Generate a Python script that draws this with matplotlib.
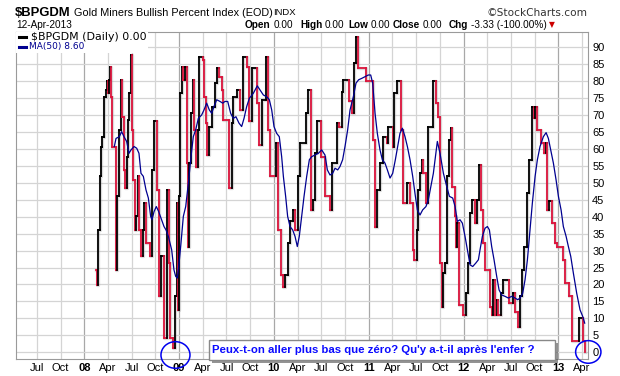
import numpy as np
import matplotlib
matplotlib.use("Agg")
import matplotlib.pyplot as plt
from matplotlib.collections import LineCollection
from matplotlib.patches import Ellipse
import matplotlib.patheffects as pe

plt.rcParams['font.family'] = ['Liberation Sans', 'DejaVu Sans']

# === data (decimal years, percent) ===
SYMBOL = "$BPGDM"
TITLE = "Gold Miners Bullish Percent Index (EOD)"
EXCHANGE = "INDX"
DATE_STR = "12-Apr-2013"
QUOTE = [("Open", "0.00"), ("High", "0.00"), ("Low", "0.00"), ("Close", "0.00"),
         ("Chg", "-3.33 (-100.00%)")]
LAST_CLOSE = 0.00
MA_LAST = 8.60
NOTE = "Peux-t-on aller plus bas que zéro? Qu'y a-t-il après l'enfer ?"

bp_t = [2008.124, 2008.131, 2008.145, 2008.162, 2008.173, 2008.191, 2008.208, 2008.226,
        2008.236, 2008.247, 2008.257, 2008.268, 2008.278, 2008.289, 2008.335, 2008.349,
        2008.363, 2008.384, 2008.398, 2008.416, 2008.433, 2008.447, 2008.461, 2008.475,
        2008.489, 2008.503, 2008.517, 2008.531, 2008.546, 2008.563, 2008.581, 2008.595,
        2008.616, 2008.634, 2008.651, 2008.693, 2008.714, 2008.739, 2008.764, 2008.788,
        2008.806, 2008.845, 2008.869, 2008.890, 2008.908, 2008.932, 2008.957, 2008.975,
        2008.992, 2009.003, 2009.013, 2009.031, 2009.045, 2009.063, 2009.080, 2009.091,
        2009.108, 2009.126, 2009.143, 2009.161, 2009.178, 2009.196, 2009.214, 2009.249,
        2009.263, 2009.280, 2009.294, 2009.312, 2009.344, 2009.379, 2009.396, 2009.424,
        2009.449, 2009.467, 2009.530, 2009.555, 2009.572, 2009.607, 2009.643, 2009.671,
        2009.720, 2009.737, 2009.766, 2009.825, 2009.843, 2009.871, 2009.913, 2009.934,
        2009.959, 2010.022, 2010.040, 2010.071, 2010.100, 2010.117, 2010.152, 2010.170,
        2010.205, 2010.223, 2010.258, 2010.275, 2010.339, 2010.363, 2010.388, 2010.416,
        2010.434, 2010.458, 2010.497, 2010.539, 2010.592, 2010.609, 2010.669, 2010.683,
        2010.715, 2010.732, 2010.796, 2010.820, 2010.845, 2010.866, 2010.887, 2010.972,
        2011.042, 2011.067, 2011.091, 2011.119, 2011.154, 2011.190, 2011.207, 2011.253,
        2011.267, 2011.295, 2011.341, 2011.358, 2011.401, 2011.436, 2011.464, 2011.481,
        2011.506, 2011.524, 2011.541, 2011.559, 2011.576, 2011.601, 2011.629, 2011.682,
        2011.710, 2011.735, 2011.752, 2011.773, 2011.788, 2011.805, 2011.823, 2011.847,
        2011.865, 2011.883, 2011.911, 2011.921, 2011.935, 2011.956, 2011.999, 2012.027,
        2012.051, 2012.069, 2012.087, 2012.122, 2012.139, 2012.164, 2012.181, 2012.210,
        2012.227, 2012.280, 2012.297, 2012.315, 2012.336, 2012.350, 2012.368, 2012.392,
        2012.414, 2012.484, 2012.526, 2012.547, 2012.572, 2012.596, 2012.614, 2012.639,
        2012.667, 2012.695, 2012.719, 2012.744, 2012.755, 2012.779, 2012.818, 2012.850,
        2012.867, 2012.885, 2012.906, 2012.930, 2012.966, 2012.990, 2013.053, 2013.071,
        2013.117, 2013.141, 2013.219, 2013.257, 2013.278]
bp_v = [24.3, 19.9, 36.0, 51.9, 60.7, 63.6, 75.4, 77.4,
        79.9, 76.4, 80.4, 84.3, 75.4, 60.7, 24.3, 46.0,
        65.6, 80.4, 69.5, 53.8, 48.4, 57.7, 68.6, 76.4,
        87.7, 65.6, 50.9, 36.1, 40.1, 51.9, 36.1, 28.3,
        36.1, 44.0, 32.2, 28.3, 53.8, 68.1, 47.9, 16.5,
        28.3, 4.2, 47.9, 26.3, 4.2, 1.2, 16.5, 44.0,
        12.5, 46.0, 76.4, 84.3, 80.4, 84.3, 55.8, 31.2,
        55.8, 70.5, 80.4, 65.6, 54.8, 65.6, 87.2, 86.2,
        75.4, 67.6, 58.2, 66.6, 72.5, 79.4, 83.8, 81.3,
        77.4, 68.6, 48.4, 67.6, 75.4, 77.4, 71.5, 87.2,
        84.3, 68.1, 83.8, 73.5, 61.2, 74.5, 87.2, 65.6,
        51.9, 61.7, 36.1, 22.8, 19.4, 22.8, 32.2, 38.6,
        42.0, 36.1, 51.9, 61.7, 70.5, 77.4, 42.0, 45.0,
        58.7, 68.1, 57.7, 46.0, 42.0, 55.8, 67.6, 66.6,
        76.9, 80.4, 74.0, 70.5, 85.3, 93.1, 83.8, 79.9,
        62.7, 37.1, 47.9, 55.8, 63.6, 61.7, 66.6, 60.7,
        76.4, 79.9, 65.6, 44.0, 49.9, 44.0, 30.2, 27.3,
        36.1, 47.9, 52.8, 56.8, 52.8, 44.0, 66.6, 79.9,
        73.5, 69.5, 26.3, 13.5, 23.3, 26.3, 51.9, 62.7,
        66.1, 48.9, 40.1, 31.2, 38.1, 14.0, 11.1, 17.4,
        26.3, 41.0, 45.0, 38.1, 45.0, 55.3, 42.0, 32.2,
        24.3, 13.5, 11.1, 21.4, 11.1, 15.5, 11.1, 17.4,
        21.4, 14.5, 17.4, 12.0, 7.6, 16.5, 24.3, 31.2,
        46.9, 56.8, 72.5, 69.0, 72.5, 65.6, 61.7, 58.7,
        61.7, 42.0, 44.5, 38.1, 32.2, 31.2, 27.3, 20.4,
        16.5, 3.3, 10.0, 3.3, 0.0]

ma_t = [2008.317, 2008.335, 2008.370, 2008.394, 2008.419, 2008.447, 2008.472, 2008.493,
        2008.525, 2008.553, 2008.577, 2008.598, 2008.623, 2008.651, 2008.676, 2008.700,
        2008.714, 2008.736, 2008.760, 2008.785, 2008.816, 2008.841, 2008.862, 2008.887,
        2008.922, 2008.946, 2008.964, 2008.982, 2009.000, 2009.020, 2009.045, 2009.070,
        2009.098, 2009.126, 2009.150, 2009.175, 2009.203, 2009.238, 2009.263, 2009.291,
        2009.319, 2009.344, 2009.368, 2009.397, 2009.432, 2009.460, 2009.484, 2009.513,
        2009.544, 2009.572, 2009.600, 2009.632, 2009.660, 2009.685, 2009.713, 2009.741,
        2009.783, 2009.825, 2009.853, 2009.889, 2009.924, 2009.952, 2009.977, 2010.001,
        2010.029, 2010.057, 2010.082, 2010.100, 2010.124, 2010.145, 2010.170, 2010.198,
        2010.223, 2010.247, 2010.268, 2010.293, 2010.318, 2010.346, 2010.374, 2010.398,
        2010.434, 2010.469, 2010.504, 2010.539, 2010.564, 2010.592, 2010.620, 2010.645,
        2010.673, 2010.697, 2010.725, 2010.750, 2010.778, 2010.803, 2010.838, 2010.866,
        2010.894, 2010.926, 2010.961, 2010.996, 2011.021, 2011.042, 2011.067, 2011.091,
        2011.119, 2011.144, 2011.172, 2011.197, 2011.225, 2011.253, 2011.281, 2011.306,
        2011.330, 2011.355, 2011.383, 2011.408, 2011.436, 2011.464, 2011.488, 2011.513,
        2011.541, 2011.569, 2011.604, 2011.629, 2011.682, 2011.724, 2011.752, 2011.788,
        2011.823, 2011.851, 2011.886, 2011.911, 2011.935, 2011.963, 2011.988, 2012.016,
        2012.041, 2012.069, 2012.097, 2012.129, 2012.157, 2012.174, 2012.199, 2012.227,
        2012.252, 2012.273, 2012.297, 2012.322, 2012.350, 2012.375, 2012.403, 2012.438,
        2012.473, 2012.508, 2012.544, 2012.572, 2012.596, 2012.624, 2012.649, 2012.674,
        2012.702, 2012.726, 2012.755, 2012.779, 2012.807, 2012.842, 2012.871, 2012.895,
        2012.920, 2012.948, 2012.976, 2013.001, 2013.029, 2013.053, 2013.082, 2013.106,
        2013.131, 2013.159, 2013.194, 2013.229, 2013.257, 2013.278]
ma_v = [60.7, 63.1, 63.6, 65.1, 63.6, 62.2, 58.7, 59.7,
        60.7, 60.2, 58.7, 52.8, 51.9, 47.9, 45.5, 40.1,
        39.1, 41.5, 43.0, 41.5, 39.1, 37.1, 36.1, 34.2,
        30.2, 24.3, 22.4, 21.9, 26.3, 32.2, 40.1, 43.0,
        49.9, 57.7, 63.6, 65.6, 69.0, 70.0, 71.5, 73.5,
        71.5, 70.5, 72.5, 74.5, 74.0, 73.5, 74.0, 74.0,
        70.5, 69.0, 69.5, 67.6, 66.6, 69.0, 72.5, 74.9,
        76.4, 78.6, 77.4, 75.9, 75.4, 74.5, 71.5, 66.6,
        64.6, 63.6, 57.7, 51.9, 46.0, 40.1, 37.1, 36.1,
        34.2, 31.2, 34.2, 40.1, 46.0, 51.9, 56.8, 57.7,
        58.2, 58.7, 59.7, 58.2, 53.8, 52.3, 52.8, 54.3,
        53.8, 54.8, 56.8, 60.7, 65.6, 71.5, 75.4, 79.4,
        80.4, 80.8, 81.3, 81.8, 81.8, 79.4, 70.5, 64.6,
        59.7, 56.8, 55.8, 53.8, 51.4, 52.8, 56.8, 60.7,
        64.6, 66.1, 63.6, 60.7, 56.8, 51.9, 46.9, 42.0,
        40.5, 42.0, 43.0, 45.0, 52.8, 62.2, 58.7, 52.8,
        48.9, 46.0, 45.5, 43.0, 38.6, 39.1, 38.1, 34.2,
        30.2, 25.8, 25.3, 26.3, 27.3, 30.2, 34.2, 36.6,
        37.1, 36.1, 31.2, 27.3, 22.4, 18.4, 16.9, 16.5,
        16.0, 16.5, 16.0, 15.5, 16.0, 17.4, 21.4, 27.3,
        36.1, 44.0, 51.9, 56.8, 60.7, 63.6, 64.8, 63.1,
        59.7, 55.8, 50.9, 46.0, 42.0, 37.1, 34.2, 31.2,
        28.3, 23.3, 17.4, 12.5, 10.6, 8.6]

tick_years = [2007, 2007, 2008, 2008, 2008, 2008, 2009, 2009, 2009, 2009, 2010, 2010,
              2010, 2010, 2011, 2011, 2011, 2011, 2012, 2012, 2012, 2012, 2013, 2013]
tick_months = [7, 10, 1, 4, 7, 10, 1, 4, 7, 10, 1, 4, 7, 10, 1, 4, 7, 10, 1, 4, 7, 10, 1, 4]
MONTH_NAMES = {4: "Apr", 7: "Jul", 10: "Oct"}
y_ticks = list(range(0, 95, 5))

# === styling ===
W, H = 620, 376
BLACK = "#000000"
RED = "#dc143c"
NAVY = "#000090"
GRID = "#d4d4d4"
YEARGRID = "#a8a8a8"
AX_L, AX_R, AX_T, AX_B = 16, 588, 32.3, 359.3


def fx(px):
    return px / W


def fy(py):
    return 1 - py / H


fig = plt.figure(figsize=(W / 100, H / 100), dpi=100)
ax = fig.add_axes([fx(AX_L), fy(AX_B), fx(AX_R) - fx(AX_L), fy(AX_T) - fy(AX_B)])
ax.set_xlim(2007.280, 2013.313)
ax.set_ylim(-2.07, 94.4)

# grid
tick_pos = [y + (m - 1) / 12 for y, m in zip(tick_years, tick_months)]
tick_lab = [f"{y % 100:02d}" if m == 1 else MONTH_NAMES[m] for y, m in zip(tick_years, tick_months)]
for p, m in zip(tick_pos, tick_months):
    ax.axvline(p, color=YEARGRID if m == 1 else GRID, lw=0.9, zorder=0)
for v in y_ticks:
    ax.axhline(v, color=GRID, lw=0.9, zorder=0)

# price line: black rising, red falling
segs, cols = [], []
prev = RED
for i in range(1, len(bp_t)):
    t0, t1 = bp_t[i - 1], bp_t[i]
    v0, v1 = bp_v[i - 1], bp_v[i]
    segs.append([(t0, v0), (t1, v0)])
    cols.append(prev)
    c = BLACK if v1 > v0 else RED
    segs.append([(t1, v0), (t1, v1)])
    cols.append(c)
    prev = c
ax.step(bp_t, bp_v, where="post", color="#9a9a9a", lw=2.4, alpha=0.35, zorder=2)
lc = LineCollection(segs, colors=cols, linewidths=1.3, capstyle="projecting", zorder=3)
ax.add_collection(lc)

# moving average
ax.plot(ma_t, ma_v, color=NAVY, lw=0.9, zorder=4)

# axes look
for s in ["top", "left", "bottom"]:
    ax.spines[s].set_color("#9a9a9a")
ax.spines["right"].set_color("#9a9a9a")
ax.spines["right"].set_linestyle((0, (1, 1)))
ax.yaxis.tick_right()
ax.set_yticks(y_ticks)
ax.set_yticklabels([str(v) for v in y_ticks], fontsize=8)
ax.tick_params(axis="y", length=0, pad=3)
ax.set_xticks(tick_pos)
ax.set_xticklabels(tick_lab, fontsize=8)
ax.tick_params(axis="x", length=0, pad=3)
for lab, m in zip(ax.get_xticklabels(), tick_months):
    if m == 1:
        lab.set_fontweight("bold")

# in-plot legend
leg_bottom = (AX_B - 53) / (AX_B - AX_T)
ax.add_patch(plt.Rectangle((0, leg_bottom), (148 - AX_L) / (AX_R - AX_L), 1 - leg_bottom,
                           transform=ax.transAxes, facecolor="white", edgecolor="none", zorder=5))
fig.add_artist(plt.Line2D([fx(19), fx(26)], [fy(37), fy(37)], color=BLACK, lw=2.2))
fig.text(fx(31), fy(37), f"{SYMBOL} (Daily) {LAST_CLOSE:.2f}", fontsize=7.9, family="DejaVu Sans",
         va="center", ha="left", color=BLACK)
fig.add_artist(plt.Line2D([fx(19), fx(26)], [fy(47), fy(47)], color=NAVY, lw=2.2))
fig.text(fx(29), fy(47), f"MA(50) {MA_LAST:.2f}", fontsize=6.5, family="DejaVu Sans",
         va="center", ha="left", color=NAVY)

# header
fig.text(fx(15), fy(12.5), SYMBOL, fontsize=9.4, fontweight="bold", va="center", ha="left")
fig.text(fx(74), fy(12.5), TITLE, fontsize=7.8, va="center", ha="left")
fig.text(fx(273), fy(12.5), EXCHANGE, fontsize=6.8, va="center", ha="left")
fig.text(fx(588), fy(12.5), "©StockCharts.com", fontsize=7.6, va="center", ha="right",
         color="#333333", family="DejaVu Sans")
fig.text(fx(16), fy(24.5), DATE_STR, fontsize=7.2, va="center", ha="left")

renderer = fig.canvas.get_renderer()
quote_x = [245, 300, 348, 393, 449]
for (name, val), xn in zip(QUOTE, quote_x):
    tn = fig.text(fx(xn), fy(24.5), name, fontsize=7.2, fontweight="bold", va="center", ha="left")
    xv = tn.get_window_extent(renderer).x1 + 2.5
    tv = fig.text(xv / W, fy(24.5), val, fontsize=7.2, va="center", ha="left")
x_end = tv.get_window_extent(renderer).x1
fig.text((x_end + 2) / W, fy(24.5), "▼", fontsize=5.5, va="center", ha="left", color="#cc0000",
         family="DejaVu Sans")

# annotation box with shadow
box = plt.Rectangle((fx(209), fy(360)), fx(555) - fx(209), fy(340) - fy(360), transform=fig.transFigure,
                    facecolor="white", edgecolor="#888888", lw=1, zorder=10)
box.set_path_effects([pe.SimplePatchShadow(offset=(2.5, -2.5), alpha=0.6), pe.Normal()])
fig.add_artist(box)
fig.text(fx(212), fy(350), NOTE, fontsize=8.2, fontweight="bold", color="#0a0aff",
         va="center", ha="left", zorder=11)

# circles around the lows
for ct, cv, w, h in [(2008.962, -0.8, 0.306, 7.85), (2013.316, 0.1, 0.267, 6.67)]:
    ax.add_patch(Ellipse((ct, cv), w, h, fill=False, edgecolor="#0000ee", lw=1.1,
                         clip_on=False, zorder=11))

fig.savefig("out.png", dpi=100)
